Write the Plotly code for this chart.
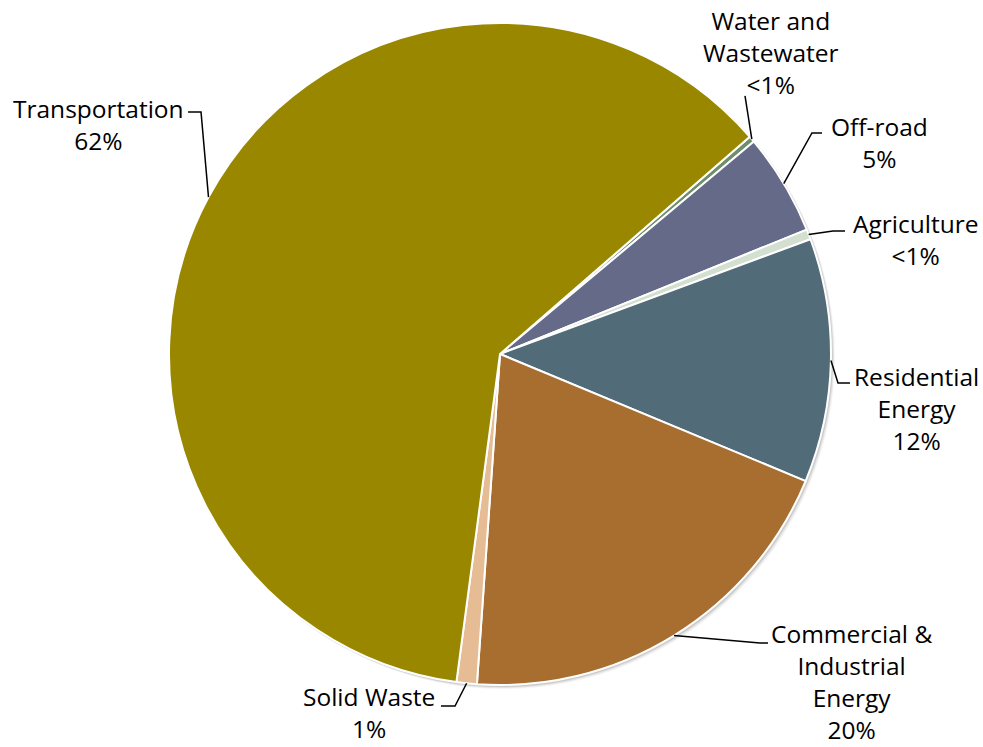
import math
import plotly.graph_objects as go

# Emissions share by sector (percent), clockwise from the 12 o'clock side
sectors = ["Water and Wastewater", "Off-road", "Agriculture", "Residential Energy",
           "Commercial & Industrial Energy", "Solid Waste", "Transportation"]
shares = [0.3, 5, 0.5, 12, 20, 1, 62]
share_labels = ["<1%", "5%", "<1%", "12%", "20%", "1%", "62%"]
label_lines = [["Water and", "Wastewater"], ["Off-road"], ["Agriculture"],
               ["Residential", "Energy"], ["Commercial &", "Industrial", "Energy"],
               ["Solid Waste"], ["Transportation"]]
colors = ["#6F8E6C", "#646A87", "#D3DFCF", "#526B78", "#A86E2F", "#E5BC93", "#9A8700"]

W, H = 983, 747
CX, CY, R = 500, 354, 331
ROTATION = 49

# label text centre and leader elbow (pixel layout)
label_pos = [(771, 53), (879, 142), (915, 239), (916, 408), (851, 681), (369, 712), (98, 124)]
elbows = [[(745, 96)], [(812, 133), (822, 133)], [(833, 231), (845, 231)],
          [(838, 383), (850, 383)], [(760, 643), (768, 643)], [(455, 706), (441, 706)],
          [(201, 112), (188, 112)]]

fig = go.Figure(go.Pie(
    labels=sectors, values=shares, sort=False, direction="clockwise",
    rotation=ROTATION, textinfo="none", hoverinfo="label+percent",
    marker=dict(colors=colors, line=dict(color="white", width=2)),
    domain=dict(x=[(CX - R) / W, (CX + R) / W], y=[(H - CY - R) / H, (H - CY + R) / H]),
    showlegend=False,
))

def px2paper(x, y):
    return x / W, 1 - y / H

total = sum(shares)
angle = ROTATION
shapes, annotations = [], []
for i, v in enumerate(shares):
    span = 360 * v / total
    mid = math.radians(angle + span / 2)
    angle += span
    ex, ey = CX + R * math.sin(mid), CY - R * math.cos(mid)
    pts = [(ex, ey)] + elbows[i]
    path = "M " + " L ".join("%.4f,%.4f" % px2paper(*p) for p in pts)
    shapes.append(dict(type="path", path=path, xref="paper", yref="paper",
                       line=dict(color="black", width=1.5)))
    lx, ly = px2paper(*label_pos[i])
    annotations.append(dict(
        x=lx, y=ly, xref="paper", yref="paper", showarrow=False,
        xanchor="center", yanchor="middle", align="center",
        text="<br>".join(label_lines[i] + [share_labels[i]]),
        font=dict(family="Open Sans", size=24.5, color="black"),
    ))

# soft drop shadow under the pie edge
shadow = []
for k, op in enumerate([0.10, 0.07, 0.04]):
    d = 1 + k
    x0, y1 = px2paper(CX - R + d, CY - R + d)
    x1, y0 = px2paper(CX + R + d + 1, CY + R + d + 1)
    shadow.append(dict(type="circle", xref="paper", yref="paper", x0=x0, x1=x1, y0=y0, y1=y1,
                       fillcolor="rgba(0,0,0,%.2f)" % op, line=dict(width=0), layer="below"))

fig.update_layout(
    width=W, height=H, margin=dict(l=0, r=0, t=0, b=0),
    paper_bgcolor="white", plot_bgcolor="white",
    shapes=shadow + shapes, annotations=annotations,
)
fig.write_html("out.html")
